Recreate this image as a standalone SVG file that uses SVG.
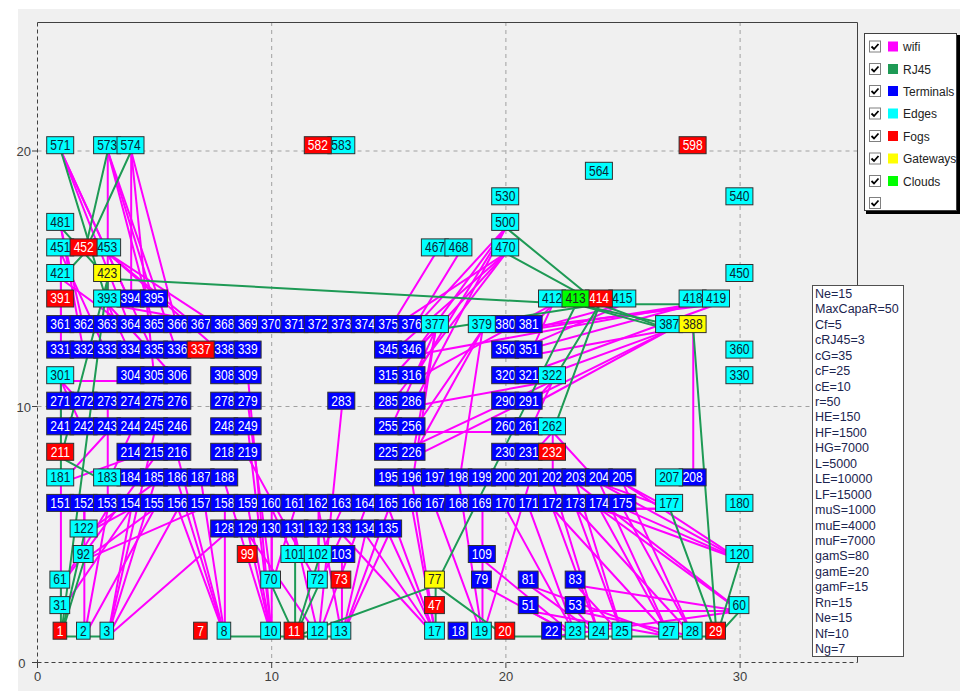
<svg xmlns="http://www.w3.org/2000/svg" width="960" height="691" viewBox="0 0 960 691">
<defs>
<style>
.grid{stroke:#A0A0A0;stroke-width:1;stroke-dasharray:4 4;fill:none}
.ax{stroke:#404040;stroke-width:1;stroke-dasharray:4 3;fill:none}
.fr{stroke:#404040;stroke-width:1;fill:none}
.lbl{font-family:"Liberation Sans",Arial,sans-serif;font-size:13px;fill:#404040}
.links line{vector-effect:non-scaling-stroke;stroke-linecap:round}
.w line{stroke:#FF00FF;stroke-width:2}
.r line{stroke:#1E9A55;stroke-width:2}
.n rect{stroke:#303030;stroke-width:1}
.n text{font-family:"Liberation Sans",Arial,sans-serif;font-size:14px;text-anchor:middle;transform:scaleX(0.86)}
.T rect{fill:#0000FF}.T text{fill:#FFFFFF}
.E rect{fill:#00FFFF}.E text{fill:#0A2535}
.F rect{fill:#FF0000}.F text{fill:#FFFFFF}
.G rect{fill:#FFFF00}.G text{fill:#222222}
.C rect{fill:#00FF00}.C text{fill:#222222}
.lg text{font-family:"Liberation Sans",Arial,sans-serif;font-size:12px;fill:#222}
.cb{fill:#fff;stroke:#808080;stroke-width:1}
.ck{fill:none;stroke:#000;stroke-width:1.8}
.pm text{font-family:"Liberation Sans",Arial,sans-serif;font-size:12.5px;fill:#1C2550}
</style>
</defs>
<rect x="0" y="0" width="960" height="691" fill="#FFFFFF"/>
<rect x="18" y="9" width="942" height="682" fill="#F0F0F0"/>
<g id="axes">
<line class="grid" x1="271.7" y1="22" x2="271.7" y2="662"/>
<line class="grid" x1="505.9" y1="22" x2="505.9" y2="662"/>
<line class="grid" x1="740.1" y1="22" x2="740.1" y2="662"/>
<line class="grid" x1="37.5" y1="151" x2="857" y2="151"/>
<line class="grid" x1="37.5" y1="406.5" x2="857" y2="406.5"/>
<line class="fr" x1="37.5" y1="22.5" x2="857.5" y2="22.5"/>
<line class="fr" x1="857.5" y1="22.5" x2="857.5" y2="662.5"/>
<line class="ax" x1="37.5" y1="22.5" x2="37.5" y2="662.5"/>
<line class="ax" x1="37.5" y1="662.5" x2="857.5" y2="662.5"/>
<line class="fr" x1="32" y1="151" x2="37.5" y2="151"/>
<line class="fr" x1="32" y1="406.5" x2="37.5" y2="406.5"/>
<line class="fr" x1="32" y1="662.5" x2="37.5" y2="662.5"/>
<line class="fr" x1="37.5" y1="662.5" x2="37.5" y2="668"/>
<line class="fr" x1="271.7" y1="662.5" x2="271.7" y2="668"/>
<line class="fr" x1="505.9" y1="662.5" x2="505.9" y2="668"/>
<line class="fr" x1="740.1" y1="662.5" x2="740.1" y2="668"/>
<text class="lbl" x="31" y="156" text-anchor="end">20</text>
<text class="lbl" x="31" y="411.5" text-anchor="end">10</text>
<text class="lbl" x="25.5" y="667.5" text-anchor="end">0</text>
<text class="lbl" x="37.5" y="681" text-anchor="middle">0</text>
<text class="lbl" x="271.7" y="681" text-anchor="middle">10</text>
<text class="lbl" x="505.9" y="681" text-anchor="middle">20</text>
<text class="lbl" x="740.1" y="681" text-anchor="middle">30</text>
</g>
<g id="connectors" class="links" transform="matrix(23.42 0 0 -25.55 37.5 662)">
<g class="w">
<line x1="1" y1="20" x2="4" y2="13"/><line x1="1" y1="20" x2="4" y2="14"/><line x1="1" y1="20" x2="5" y2="12"/>
<line x1="3" y1="20" x2="5" y2="13"/><line x1="3" y1="20" x2="5" y2="14"/><line x1="3" y1="20" x2="6" y2="12"/><line x1="3" y1="20" x2="3" y2="13"/>
<line x1="4" y1="20" x2="4" y2="14"/><line x1="4" y1="20" x2="6" y2="13"/><line x1="4" y1="20" x2="5" y2="11"/>
<line x1="1" y1="17" x2="2" y2="13"/><line x1="1" y1="17" x2="2" y2="12"/>
<line x1="1" y1="16" x2="1" y2="13"/><line x1="1" y1="16" x2="3" y2="12"/>
<line x1="3" y1="16" x2="8" y2="13"/><line x1="3" y1="16" x2="8" y2="12"/><line x1="3" y1="16" x2="7" y2="13"/>
<line x1="1" y1="15" x2="1" y2="12"/><line x1="1" y1="15" x2="4" y2="13"/>
<line x1="3" y1="14" x2="4" y2="12"/><line x1="3" y1="14" x2="9" y2="13"/><line x1="3" y1="14" x2="6" y2="11"/><line x1="3" y1="14" x2="5" y2="14"/>
<line x1="1" y1="11" x2="1" y2="10"/><line x1="1" y1="11" x2="1" y2="9"/><line x1="1" y1="11" x2="4" y2="11"/><line x1="1" y1="11" x2="2" y2="10"/><line x1="1" y1="11" x2="2" y2="9"/>
<line x1="1" y1="7" x2="4" y2="8"/><line x1="1" y1="7" x2="1" y2="6"/><line x1="1" y1="7" x2="3" y2="9"/>
<line x1="3" y1="7" x2="4" y2="7"/><line x1="3" y1="7" x2="4" y2="9"/><line x1="3" y1="7" x2="3" y2="10"/><line x1="3" y1="7" x2="3" y2="6"/>
<line x1="2" y1="5" x2="2" y2="6"/><line x1="2" y1="5" x2="5" y2="7"/><line x1="2" y1="5" x2="4" y2="6"/>
<line x1="2" y1="4" x2="5" y2="6"/><line x1="2" y1="4" x2="7" y2="6"/>
<line x1="1" y1="3" x2="3" y2="6"/><line x1="1" y1="3" x2="5" y2="8"/>
<line x1="1" y1="2" x2="1" y2="6"/><line x1="1" y1="2" x2="4" y2="6"/>
<line x1="2" y1="1" x2="2" y2="6"/><line x1="2" y1="1" x2="3" y2="6"/><line x1="2" y1="1" x2="5" y2="6"/>
<line x1="3" y1="1" x2="4" y2="6"/><line x1="3" y1="1" x2="6" y2="6"/><line x1="3" y1="1" x2="8" y2="5"/><line x1="3" y1="1" x2="5" y2="7"/><line x1="3" y1="1" x2="5" y2="9"/>
<line x1="8" y1="1" x2="6" y2="6"/><line x1="8" y1="1" x2="6" y2="7"/><line x1="8" y1="1" x2="8" y2="6"/><line x1="8" y1="1" x2="7" y2="7"/><line x1="8" y1="1" x2="6" y2="8"/>
<line x1="10" y1="1" x2="9" y2="6"/><line x1="10" y1="1" x2="9" y2="5"/><line x1="10" y1="1" x2="8" y2="7"/><line x1="10" y1="1" x2="9" y2="11"/><line x1="10" y1="1" x2="9" y2="9"/><line x1="10" y1="1" x2="10" y2="6"/>
<line x1="10" y1="3" x2="10" y2="5"/><line x1="10" y1="3" x2="11" y2="6"/><line x1="10" y1="3" x2="9" y2="10"/>
<line x1="12" y1="3" x2="12" y2="6"/><line x1="12" y1="3" x2="13" y2="5"/><line x1="12" y1="3" x2="9" y2="8"/>
<line x1="11" y1="4" x2="11" y2="5"/><line x1="11" y1="4" x2="10" y2="6"/>
<line x1="12" y1="4" x2="12" y2="5"/><line x1="12" y1="4" x2="13" y2="6"/>
<line x1="12" y1="1" x2="13" y2="10"/><line x1="12" y1="1" x2="11" y2="5"/><line x1="12" y1="1" x2="14" y2="6"/><line x1="12" y1="1" x2="9" y2="5"/>
<line x1="13" y1="1" x2="14" y2="5"/><line x1="13" y1="1" x2="13" y2="4"/><line x1="13" y1="1" x2="15" y2="6"/><line x1="13" y1="1" x2="12" y2="6"/><line x1="13" y1="1" x2="15" y2="5"/>
<line x1="17" y1="1" x2="15" y2="5"/><line x1="17" y1="1" x2="16" y2="6"/><line x1="17" y1="1" x2="15" y2="6"/><line x1="17" y1="1" x2="14" y2="5"/><line x1="17" y1="1" x2="16" y2="7"/><line x1="17" y1="1" x2="13" y2="5"/>
<line x1="19" y1="1" x2="17" y2="6"/><line x1="19" y1="1" x2="21" y2="7"/><line x1="19" y1="1" x2="18" y2="7"/><line x1="19" y1="1" x2="19" y2="6"/>
<line x1="23" y1="1" x2="21" y2="2"/><line x1="23" y1="1" x2="19" y2="4"/><line x1="23" y1="1" x2="19" y2="3"/><line x1="23" y1="1" x2="21" y2="6"/><line x1="23" y1="1" x2="20" y2="6"/>
<line x1="24" y1="1" x2="23" y2="2"/><line x1="24" y1="1" x2="22" y2="6"/><line x1="24" y1="1" x2="21" y2="3"/><line x1="24" y1="1" x2="22" y2="7"/>
<line x1="25" y1="1" x2="23" y2="6"/><line x1="25" y1="1" x2="23" y2="3"/><line x1="25" y1="1" x2="23" y2="7"/>
<line x1="27" y1="1" x2="24" y2="6"/><line x1="27" y1="1" x2="21" y2="2"/><line x1="27" y1="1" x2="22" y2="6"/><line x1="27" y1="1" x2="24" y2="7"/><line x1="27" y1="1" x2="21" y2="3"/>
<line x1="28" y1="1" x2="25" y2="6"/><line x1="28" y1="1" x2="23" y2="2"/><line x1="28" y1="1" x2="23" y2="6"/><line x1="28" y1="1" x2="25" y2="7"/>
<line x1="30" y1="2" x2="23" y2="2"/><line x1="30" y1="2" x2="23" y2="3"/><line x1="30" y1="2" x2="24" y2="6"/><line x1="30" y1="2" x2="23" y2="7"/><line x1="30" y1="2" x2="22" y2="1"/>
<line x1="30" y1="4" x2="25" y2="6"/><line x1="30" y1="4" x2="25" y2="7"/><line x1="30" y1="4" x2="24" y2="6"/><line x1="30" y1="4" x2="24" y2="7"/>
<line x1="27" y1="6" x2="25" y2="6"/><line x1="27" y1="6" x2="25" y2="7"/><line x1="27" y1="6" x2="24" y2="7"/><line x1="27" y1="6" x2="24" y2="6"/>
<line x1="20" y1="16" x2="15" y2="13"/><line x1="20" y1="16" x2="15" y2="12"/><line x1="20" y1="16" x2="15" y2="11"/><line x1="20" y1="16" x2="15" y2="10"/>
<line x1="20" y1="17" x2="16" y2="12"/><line x1="20" y1="17" x2="16" y2="11"/><line x1="20" y1="17" x2="16" y2="10"/><line x1="20" y1="17" x2="16" y2="13"/>
<line x1="18" y1="16" x2="16" y2="13"/><line x1="17" y1="16" x2="15" y2="13"/>
<line x1="17" y1="13" x2="16" y2="12"/><line x1="17" y1="13" x2="16" y2="8"/><line x1="17" y1="13" x2="16" y2="7"/><line x1="17" y1="13" x2="15" y2="9"/>
<line x1="19" y1="13" x2="18" y2="7"/><line x1="19" y1="13" x2="16" y2="8"/><line x1="19" y1="13" x2="16" y2="9"/><line x1="19" y1="13" x2="20" y2="13"/>
<line x1="22" y1="11" x2="21" y2="10"/><line x1="22" y1="11" x2="21" y2="9"/><line x1="22" y1="11" x2="15" y2="8"/><line x1="22" y1="11" x2="16" y2="10"/>
<line x1="22" y1="9" x2="21" y2="8"/><line x1="22" y1="9" x2="22" y2="7"/><line x1="22" y1="9" x2="16" y2="9"/><line x1="22" y1="9" x2="24" y2="7"/>
<line x1="22" y1="14" x2="21" y2="13"/><line x1="22" y1="14" x2="21" y2="12"/><line x1="22" y1="14" x2="16" y2="11"/>
<line x1="25" y1="14" x2="20" y2="12"/><line x1="25" y1="14" x2="21" y2="13"/>
<line x1="27" y1="13" x2="21" y2="12"/><line x1="27" y1="13" x2="21" y2="11"/><line x1="27" y1="13" x2="21" y2="10"/><line x1="27" y1="13" x2="16" y2="8"/>
<line x1="28" y1="14" x2="21" y2="13"/><line x1="28" y1="14" x2="20" y2="12"/><line x1="28" y1="14" x2="16" y2="12"/>
<line x1="29" y1="14" x2="20" y2="11"/><line x1="29" y1="14" x2="20" y2="13"/>
<line x1="28" y1="13" x2="28" y2="7"/>
</g>
<g class="r">
<line x1="1" y1="20" x2="3" y2="14"/><line x1="3" y1="20" x2="2" y2="16"/><line x1="4" y1="20" x2="2" y2="16"/><line x1="1" y1="17" x2="2" y2="16"/>
<line x1="2" y1="16" x2="1" y2="15"/><line x1="2" y1="16" x2="3" y2="15"/><line x1="1" y1="16" x2="3" y2="16"/>
<line x1="3" y1="15" x2="23" y2="14"/><line x1="3" y1="15" x2="1" y2="8"/><line x1="3" y1="15" x2="1" y2="1"/><line x1="3" y1="15" x2="3" y2="14"/>
<line x1="1" y1="8" x2="1" y2="7"/><line x1="1" y1="8" x2="3" y2="7"/><line x1="1" y1="8" x2="1" y2="11"/>
<line x1="1" y1="1" x2="1" y2="3"/><line x1="1" y1="1" x2="2" y2="4"/><line x1="1" y1="1" x2="2" y2="5"/><line x1="1" y1="1" x2="3" y2="1"/>
<line x1="8" y1="1" x2="13" y2="1"/><line x1="11" y1="1" x2="10" y2="3"/><line x1="11" y1="1" x2="11" y2="4"/><line x1="11" y1="1" x2="12" y2="4"/><line x1="11" y1="1" x2="12" y2="3"/>
<line x1="17" y1="3" x2="17" y2="1"/><line x1="17" y1="3" x2="11" y2="1"/><line x1="17" y1="3" x2="20" y2="1"/><line x1="17" y1="3" x2="23" y2="14"/>
<line x1="20" y1="1" x2="29" y2="1"/>
<line x1="29" y1="1" x2="28" y2="13"/><line x1="29" y1="1" x2="27" y2="6"/><line x1="29" y1="1" x2="30" y2="4"/><line x1="29" y1="1" x2="30" y2="2"/>
<line x1="23" y1="14" x2="28" y2="13"/><line x1="23" y1="14" x2="27" y2="13"/><line x1="24" y1="14" x2="27" y2="13"/>
<line x1="24" y1="14" x2="29" y2="14"/><line x1="24" y1="14" x2="20" y2="16"/><line x1="24" y1="14" x2="20" y2="17"/>
<line x1="24" y1="14" x2="22" y2="11"/><line x1="24" y1="14" x2="22" y2="9"/><line x1="24" y1="14" x2="17" y2="13"/>
</g>
</g>
<g id="nodes">
<g id="n361" class="n T" transform="translate(60.9 329.9)"><rect x="-14.2" y="-14.3" width="27" height="17"/><text x="-0.7" y="-1">361</text></g>
<g id="n362" class="n T" transform="translate(84.3 329.9)"><rect x="-14.2" y="-14.3" width="27" height="17"/><text x="-0.7" y="-1">362</text></g>
<g id="n363" class="n T" transform="translate(107.8 329.9)"><rect x="-14.2" y="-14.3" width="27" height="17"/><text x="-0.7" y="-1">363</text></g>
<g id="n364" class="n T" transform="translate(131.2 329.9)"><rect x="-14.2" y="-14.3" width="27" height="17"/><text x="-0.7" y="-1">364</text></g>
<g id="n365" class="n T" transform="translate(154.6 329.9)"><rect x="-14.2" y="-14.3" width="27" height="17"/><text x="-0.7" y="-1">365</text></g>
<g id="n366" class="n T" transform="translate(178.0 329.9)"><rect x="-14.2" y="-14.3" width="27" height="17"/><text x="-0.7" y="-1">366</text></g>
<g id="n367" class="n T" transform="translate(201.4 329.9)"><rect x="-14.2" y="-14.3" width="27" height="17"/><text x="-0.7" y="-1">367</text></g>
<g id="n368" class="n T" transform="translate(224.9 329.9)"><rect x="-14.2" y="-14.3" width="27" height="17"/><text x="-0.7" y="-1">368</text></g>
<g id="n369" class="n T" transform="translate(248.3 329.9)"><rect x="-14.2" y="-14.3" width="27" height="17"/><text x="-0.7" y="-1">369</text></g>
<g id="n370" class="n T" transform="translate(271.7 329.9)"><rect x="-14.2" y="-14.3" width="27" height="17"/><text x="-0.7" y="-1">370</text></g>
<g id="n371" class="n T" transform="translate(295.1 329.9)"><rect x="-14.2" y="-14.3" width="27" height="17"/><text x="-0.7" y="-1">371</text></g>
<g id="n372" class="n T" transform="translate(318.5 329.9)"><rect x="-14.2" y="-14.3" width="27" height="17"/><text x="-0.7" y="-1">372</text></g>
<g id="n373" class="n T" transform="translate(342.0 329.9)"><rect x="-14.2" y="-14.3" width="27" height="17"/><text x="-0.7" y="-1">373</text></g>
<g id="n374" class="n T" transform="translate(365.4 329.9)"><rect x="-14.2" y="-14.3" width="27" height="17"/><text x="-0.7" y="-1">374</text></g>
<g id="n375" class="n T" transform="translate(388.8 329.9)"><rect x="-14.2" y="-14.3" width="27" height="17"/><text x="-0.7" y="-1">375</text></g>
<g id="n376" class="n T" transform="translate(412.2 329.9)"><rect x="-14.2" y="-14.3" width="27" height="17"/><text x="-0.7" y="-1">376</text></g>
<g id="n380" class="n T" transform="translate(505.9 329.9)"><rect x="-14.2" y="-14.3" width="27" height="17"/><text x="-0.7" y="-1">380</text></g>
<g id="n381" class="n T" transform="translate(529.3 329.9)"><rect x="-14.2" y="-14.3" width="27" height="17"/><text x="-0.7" y="-1">381</text></g>
<g id="n394" class="n T" transform="translate(131.2 304.3)"><rect x="-14.2" y="-14.3" width="27" height="17"/><text x="-0.7" y="-1">394</text></g>
<g id="n395" class="n T" transform="translate(154.6 304.3)"><rect x="-14.2" y="-14.3" width="27" height="17"/><text x="-0.7" y="-1">395</text></g>
<g id="n331" class="n T" transform="translate(60.9 355.4)"><rect x="-14.2" y="-14.3" width="27" height="17"/><text x="-0.7" y="-1">331</text></g>
<g id="n332" class="n T" transform="translate(84.3 355.4)"><rect x="-14.2" y="-14.3" width="27" height="17"/><text x="-0.7" y="-1">332</text></g>
<g id="n333" class="n T" transform="translate(107.8 355.4)"><rect x="-14.2" y="-14.3" width="27" height="17"/><text x="-0.7" y="-1">333</text></g>
<g id="n334" class="n T" transform="translate(131.2 355.4)"><rect x="-14.2" y="-14.3" width="27" height="17"/><text x="-0.7" y="-1">334</text></g>
<g id="n335" class="n T" transform="translate(154.6 355.4)"><rect x="-14.2" y="-14.3" width="27" height="17"/><text x="-0.7" y="-1">335</text></g>
<g id="n336" class="n T" transform="translate(178.0 355.4)"><rect x="-14.2" y="-14.3" width="27" height="17"/><text x="-0.7" y="-1">336</text></g>
<g id="n338" class="n T" transform="translate(224.9 355.4)"><rect x="-14.2" y="-14.3" width="27" height="17"/><text x="-0.7" y="-1">338</text></g>
<g id="n339" class="n T" transform="translate(248.3 355.4)"><rect x="-14.2" y="-14.3" width="27" height="17"/><text x="-0.7" y="-1">339</text></g>
<g id="n345" class="n T" transform="translate(388.8 355.4)"><rect x="-14.2" y="-14.3" width="27" height="17"/><text x="-0.7" y="-1">345</text></g>
<g id="n346" class="n T" transform="translate(412.2 355.4)"><rect x="-14.2" y="-14.3" width="27" height="17"/><text x="-0.7" y="-1">346</text></g>
<g id="n350" class="n T" transform="translate(505.9 355.4)"><rect x="-14.2" y="-14.3" width="27" height="17"/><text x="-0.7" y="-1">350</text></g>
<g id="n351" class="n T" transform="translate(529.3 355.4)"><rect x="-14.2" y="-14.3" width="27" height="17"/><text x="-0.7" y="-1">351</text></g>
<g id="n304" class="n T" transform="translate(131.2 381)"><rect x="-14.2" y="-14.3" width="27" height="17"/><text x="-0.7" y="-1">304</text></g>
<g id="n305" class="n T" transform="translate(154.6 381)"><rect x="-14.2" y="-14.3" width="27" height="17"/><text x="-0.7" y="-1">305</text></g>
<g id="n306" class="n T" transform="translate(178.0 381)"><rect x="-14.2" y="-14.3" width="27" height="17"/><text x="-0.7" y="-1">306</text></g>
<g id="n308" class="n T" transform="translate(224.9 381)"><rect x="-14.2" y="-14.3" width="27" height="17"/><text x="-0.7" y="-1">308</text></g>
<g id="n309" class="n T" transform="translate(248.3 381)"><rect x="-14.2" y="-14.3" width="27" height="17"/><text x="-0.7" y="-1">309</text></g>
<g id="n315" class="n T" transform="translate(388.8 381)"><rect x="-14.2" y="-14.3" width="27" height="17"/><text x="-0.7" y="-1">315</text></g>
<g id="n316" class="n T" transform="translate(412.2 381)"><rect x="-14.2" y="-14.3" width="27" height="17"/><text x="-0.7" y="-1">316</text></g>
<g id="n320" class="n T" transform="translate(505.9 381)"><rect x="-14.2" y="-14.3" width="27" height="17"/><text x="-0.7" y="-1">320</text></g>
<g id="n321" class="n T" transform="translate(529.3 381)"><rect x="-14.2" y="-14.3" width="27" height="17"/><text x="-0.7" y="-1">321</text></g>
<g id="n271" class="n T" transform="translate(60.9 406.5)"><rect x="-14.2" y="-14.3" width="27" height="17"/><text x="-0.7" y="-1">271</text></g>
<g id="n272" class="n T" transform="translate(84.3 406.5)"><rect x="-14.2" y="-14.3" width="27" height="17"/><text x="-0.7" y="-1">272</text></g>
<g id="n273" class="n T" transform="translate(107.8 406.5)"><rect x="-14.2" y="-14.3" width="27" height="17"/><text x="-0.7" y="-1">273</text></g>
<g id="n274" class="n T" transform="translate(131.2 406.5)"><rect x="-14.2" y="-14.3" width="27" height="17"/><text x="-0.7" y="-1">274</text></g>
<g id="n275" class="n T" transform="translate(154.6 406.5)"><rect x="-14.2" y="-14.3" width="27" height="17"/><text x="-0.7" y="-1">275</text></g>
<g id="n276" class="n T" transform="translate(178.0 406.5)"><rect x="-14.2" y="-14.3" width="27" height="17"/><text x="-0.7" y="-1">276</text></g>
<g id="n278" class="n T" transform="translate(224.9 406.5)"><rect x="-14.2" y="-14.3" width="27" height="17"/><text x="-0.7" y="-1">278</text></g>
<g id="n279" class="n T" transform="translate(248.3 406.5)"><rect x="-14.2" y="-14.3" width="27" height="17"/><text x="-0.7" y="-1">279</text></g>
<g id="n283" class="n T" transform="translate(342.0 406.5)"><rect x="-14.2" y="-14.3" width="27" height="17"/><text x="-0.7" y="-1">283</text></g>
<g id="n285" class="n T" transform="translate(388.8 406.5)"><rect x="-14.2" y="-14.3" width="27" height="17"/><text x="-0.7" y="-1">285</text></g>
<g id="n286" class="n T" transform="translate(412.2 406.5)"><rect x="-14.2" y="-14.3" width="27" height="17"/><text x="-0.7" y="-1">286</text></g>
<g id="n290" class="n T" transform="translate(505.9 406.5)"><rect x="-14.2" y="-14.3" width="27" height="17"/><text x="-0.7" y="-1">290</text></g>
<g id="n291" class="n T" transform="translate(529.3 406.5)"><rect x="-14.2" y="-14.3" width="27" height="17"/><text x="-0.7" y="-1">291</text></g>
<g id="n241" class="n T" transform="translate(60.9 432.1)"><rect x="-14.2" y="-14.3" width="27" height="17"/><text x="-0.7" y="-1">241</text></g>
<g id="n242" class="n T" transform="translate(84.3 432.1)"><rect x="-14.2" y="-14.3" width="27" height="17"/><text x="-0.7" y="-1">242</text></g>
<g id="n243" class="n T" transform="translate(107.8 432.1)"><rect x="-14.2" y="-14.3" width="27" height="17"/><text x="-0.7" y="-1">243</text></g>
<g id="n244" class="n T" transform="translate(131.2 432.1)"><rect x="-14.2" y="-14.3" width="27" height="17"/><text x="-0.7" y="-1">244</text></g>
<g id="n245" class="n T" transform="translate(154.6 432.1)"><rect x="-14.2" y="-14.3" width="27" height="17"/><text x="-0.7" y="-1">245</text></g>
<g id="n246" class="n T" transform="translate(178.0 432.1)"><rect x="-14.2" y="-14.3" width="27" height="17"/><text x="-0.7" y="-1">246</text></g>
<g id="n248" class="n T" transform="translate(224.9 432.1)"><rect x="-14.2" y="-14.3" width="27" height="17"/><text x="-0.7" y="-1">248</text></g>
<g id="n249" class="n T" transform="translate(248.3 432.1)"><rect x="-14.2" y="-14.3" width="27" height="17"/><text x="-0.7" y="-1">249</text></g>
<g id="n255" class="n T" transform="translate(388.8 432.1)"><rect x="-14.2" y="-14.3" width="27" height="17"/><text x="-0.7" y="-1">255</text></g>
<g id="n256" class="n T" transform="translate(412.2 432.1)"><rect x="-14.2" y="-14.3" width="27" height="17"/><text x="-0.7" y="-1">256</text></g>
<g id="n260" class="n T" transform="translate(505.9 432.1)"><rect x="-14.2" y="-14.3" width="27" height="17"/><text x="-0.7" y="-1">260</text></g>
<g id="n261" class="n T" transform="translate(529.3 432.1)"><rect x="-14.2" y="-14.3" width="27" height="17"/><text x="-0.7" y="-1">261</text></g>
<g id="n214" class="n T" transform="translate(131.2 457.6)"><rect x="-14.2" y="-14.3" width="27" height="17"/><text x="-0.7" y="-1">214</text></g>
<g id="n215" class="n T" transform="translate(154.6 457.6)"><rect x="-14.2" y="-14.3" width="27" height="17"/><text x="-0.7" y="-1">215</text></g>
<g id="n216" class="n T" transform="translate(178.0 457.6)"><rect x="-14.2" y="-14.3" width="27" height="17"/><text x="-0.7" y="-1">216</text></g>
<g id="n218" class="n T" transform="translate(224.9 457.6)"><rect x="-14.2" y="-14.3" width="27" height="17"/><text x="-0.7" y="-1">218</text></g>
<g id="n219" class="n T" transform="translate(248.3 457.6)"><rect x="-14.2" y="-14.3" width="27" height="17"/><text x="-0.7" y="-1">219</text></g>
<g id="n225" class="n T" transform="translate(388.8 457.6)"><rect x="-14.2" y="-14.3" width="27" height="17"/><text x="-0.7" y="-1">225</text></g>
<g id="n226" class="n T" transform="translate(412.2 457.6)"><rect x="-14.2" y="-14.3" width="27" height="17"/><text x="-0.7" y="-1">226</text></g>
<g id="n230" class="n T" transform="translate(505.9 457.6)"><rect x="-14.2" y="-14.3" width="27" height="17"/><text x="-0.7" y="-1">230</text></g>
<g id="n231" class="n T" transform="translate(529.3 457.6)"><rect x="-14.2" y="-14.3" width="27" height="17"/><text x="-0.7" y="-1">231</text></g>
<g id="n184" class="n T" transform="translate(131.2 483.2)"><rect x="-14.2" y="-14.3" width="27" height="17"/><text x="-0.7" y="-1">184</text></g>
<g id="n185" class="n T" transform="translate(154.6 483.2)"><rect x="-14.2" y="-14.3" width="27" height="17"/><text x="-0.7" y="-1">185</text></g>
<g id="n186" class="n T" transform="translate(178.0 483.2)"><rect x="-14.2" y="-14.3" width="27" height="17"/><text x="-0.7" y="-1">186</text></g>
<g id="n187" class="n T" transform="translate(201.4 483.2)"><rect x="-14.2" y="-14.3" width="27" height="17"/><text x="-0.7" y="-1">187</text></g>
<g id="n188" class="n T" transform="translate(224.9 483.2)"><rect x="-14.2" y="-14.3" width="27" height="17"/><text x="-0.7" y="-1">188</text></g>
<g id="n195" class="n T" transform="translate(388.8 483.2)"><rect x="-14.2" y="-14.3" width="27" height="17"/><text x="-0.7" y="-1">195</text></g>
<g id="n196" class="n T" transform="translate(412.2 483.2)"><rect x="-14.2" y="-14.3" width="27" height="17"/><text x="-0.7" y="-1">196</text></g>
<g id="n197" class="n T" transform="translate(435.6 483.2)"><rect x="-14.2" y="-14.3" width="27" height="17"/><text x="-0.7" y="-1">197</text></g>
<g id="n198" class="n T" transform="translate(459.1 483.2)"><rect x="-14.2" y="-14.3" width="27" height="17"/><text x="-0.7" y="-1">198</text></g>
<g id="n199" class="n T" transform="translate(482.5 483.2)"><rect x="-14.2" y="-14.3" width="27" height="17"/><text x="-0.7" y="-1">199</text></g>
<g id="n200" class="n T" transform="translate(505.9 483.2)"><rect x="-14.2" y="-14.3" width="27" height="17"/><text x="-0.7" y="-1">200</text></g>
<g id="n201" class="n T" transform="translate(529.3 483.2)"><rect x="-14.2" y="-14.3" width="27" height="17"/><text x="-0.7" y="-1">201</text></g>
<g id="n202" class="n T" transform="translate(552.7 483.2)"><rect x="-14.2" y="-14.3" width="27" height="17"/><text x="-0.7" y="-1">202</text></g>
<g id="n203" class="n T" transform="translate(576.2 483.2)"><rect x="-14.2" y="-14.3" width="27" height="17"/><text x="-0.7" y="-1">203</text></g>
<g id="n204" class="n T" transform="translate(599.6 483.2)"><rect x="-14.2" y="-14.3" width="27" height="17"/><text x="-0.7" y="-1">204</text></g>
<g id="n205" class="n T" transform="translate(623.0 483.2)"><rect x="-14.2" y="-14.3" width="27" height="17"/><text x="-0.7" y="-1">205</text></g>
<g id="n208" class="n T" transform="translate(693.3 483.2)"><rect x="-14.2" y="-14.3" width="27" height="17"/><text x="-0.7" y="-1">208</text></g>
<g id="n151" class="n T" transform="translate(60.9 508.7)"><rect x="-14.2" y="-14.3" width="27" height="17"/><text x="-0.7" y="-1">151</text></g>
<g id="n152" class="n T" transform="translate(84.3 508.7)"><rect x="-14.2" y="-14.3" width="27" height="17"/><text x="-0.7" y="-1">152</text></g>
<g id="n153" class="n T" transform="translate(107.8 508.7)"><rect x="-14.2" y="-14.3" width="27" height="17"/><text x="-0.7" y="-1">153</text></g>
<g id="n154" class="n T" transform="translate(131.2 508.7)"><rect x="-14.2" y="-14.3" width="27" height="17"/><text x="-0.7" y="-1">154</text></g>
<g id="n155" class="n T" transform="translate(154.6 508.7)"><rect x="-14.2" y="-14.3" width="27" height="17"/><text x="-0.7" y="-1">155</text></g>
<g id="n156" class="n T" transform="translate(178.0 508.7)"><rect x="-14.2" y="-14.3" width="27" height="17"/><text x="-0.7" y="-1">156</text></g>
<g id="n157" class="n T" transform="translate(201.4 508.7)"><rect x="-14.2" y="-14.3" width="27" height="17"/><text x="-0.7" y="-1">157</text></g>
<g id="n158" class="n T" transform="translate(224.9 508.7)"><rect x="-14.2" y="-14.3" width="27" height="17"/><text x="-0.7" y="-1">158</text></g>
<g id="n159" class="n T" transform="translate(248.3 508.7)"><rect x="-14.2" y="-14.3" width="27" height="17"/><text x="-0.7" y="-1">159</text></g>
<g id="n160" class="n T" transform="translate(271.7 508.7)"><rect x="-14.2" y="-14.3" width="27" height="17"/><text x="-0.7" y="-1">160</text></g>
<g id="n161" class="n T" transform="translate(295.1 508.7)"><rect x="-14.2" y="-14.3" width="27" height="17"/><text x="-0.7" y="-1">161</text></g>
<g id="n162" class="n T" transform="translate(318.5 508.7)"><rect x="-14.2" y="-14.3" width="27" height="17"/><text x="-0.7" y="-1">162</text></g>
<g id="n163" class="n T" transform="translate(342.0 508.7)"><rect x="-14.2" y="-14.3" width="27" height="17"/><text x="-0.7" y="-1">163</text></g>
<g id="n164" class="n T" transform="translate(365.4 508.7)"><rect x="-14.2" y="-14.3" width="27" height="17"/><text x="-0.7" y="-1">164</text></g>
<g id="n165" class="n T" transform="translate(388.8 508.7)"><rect x="-14.2" y="-14.3" width="27" height="17"/><text x="-0.7" y="-1">165</text></g>
<g id="n166" class="n T" transform="translate(412.2 508.7)"><rect x="-14.2" y="-14.3" width="27" height="17"/><text x="-0.7" y="-1">166</text></g>
<g id="n167" class="n T" transform="translate(435.6 508.7)"><rect x="-14.2" y="-14.3" width="27" height="17"/><text x="-0.7" y="-1">167</text></g>
<g id="n168" class="n T" transform="translate(459.1 508.7)"><rect x="-14.2" y="-14.3" width="27" height="17"/><text x="-0.7" y="-1">168</text></g>
<g id="n169" class="n T" transform="translate(482.5 508.7)"><rect x="-14.2" y="-14.3" width="27" height="17"/><text x="-0.7" y="-1">169</text></g>
<g id="n170" class="n T" transform="translate(505.9 508.7)"><rect x="-14.2" y="-14.3" width="27" height="17"/><text x="-0.7" y="-1">170</text></g>
<g id="n171" class="n T" transform="translate(529.3 508.7)"><rect x="-14.2" y="-14.3" width="27" height="17"/><text x="-0.7" y="-1">171</text></g>
<g id="n172" class="n T" transform="translate(552.7 508.7)"><rect x="-14.2" y="-14.3" width="27" height="17"/><text x="-0.7" y="-1">172</text></g>
<g id="n173" class="n T" transform="translate(576.2 508.7)"><rect x="-14.2" y="-14.3" width="27" height="17"/><text x="-0.7" y="-1">173</text></g>
<g id="n174" class="n T" transform="translate(599.6 508.7)"><rect x="-14.2" y="-14.3" width="27" height="17"/><text x="-0.7" y="-1">174</text></g>
<g id="n175" class="n T" transform="translate(623.0 508.7)"><rect x="-14.2" y="-14.3" width="27" height="17"/><text x="-0.7" y="-1">175</text></g>
<g id="n128" class="n T" transform="translate(224.9 534.3)"><rect x="-14.2" y="-14.3" width="27" height="17"/><text x="-0.7" y="-1">128</text></g>
<g id="n129" class="n T" transform="translate(248.3 534.3)"><rect x="-14.2" y="-14.3" width="27" height="17"/><text x="-0.7" y="-1">129</text></g>
<g id="n130" class="n T" transform="translate(271.7 534.3)"><rect x="-14.2" y="-14.3" width="27" height="17"/><text x="-0.7" y="-1">130</text></g>
<g id="n131" class="n T" transform="translate(295.1 534.3)"><rect x="-14.2" y="-14.3" width="27" height="17"/><text x="-0.7" y="-1">131</text></g>
<g id="n132" class="n T" transform="translate(318.5 534.3)"><rect x="-14.2" y="-14.3" width="27" height="17"/><text x="-0.7" y="-1">132</text></g>
<g id="n133" class="n T" transform="translate(342.0 534.3)"><rect x="-14.2" y="-14.3" width="27" height="17"/><text x="-0.7" y="-1">133</text></g>
<g id="n134" class="n T" transform="translate(365.4 534.3)"><rect x="-14.2" y="-14.3" width="27" height="17"/><text x="-0.7" y="-1">134</text></g>
<g id="n135" class="n T" transform="translate(388.8 534.3)"><rect x="-14.2" y="-14.3" width="27" height="17"/><text x="-0.7" y="-1">135</text></g>
<g id="n103" class="n T" transform="translate(342.0 559.8)"><rect x="-14.2" y="-14.3" width="27" height="17"/><text x="-0.7" y="-1">103</text></g>
<g id="n109" class="n T" transform="translate(482.5 559.8)"><rect x="-14.2" y="-14.3" width="27" height="17"/><text x="-0.7" y="-1">109</text></g>
<g id="n79" class="n T" transform="translate(482.5 585.4)"><rect x="-11" y="-14.3" width="19.8" height="17"/><text x="-1.1" y="-1">79</text></g>
<g id="n81" class="n T" transform="translate(529.3 585.4)"><rect x="-11" y="-14.3" width="19.8" height="17"/><text x="-1.1" y="-1">81</text></g>
<g id="n83" class="n T" transform="translate(576.2 585.4)"><rect x="-11" y="-14.3" width="19.8" height="17"/><text x="-1.1" y="-1">83</text></g>
<g id="n51" class="n T" transform="translate(529.3 610.9)"><rect x="-11" y="-14.3" width="19.8" height="17"/><text x="-1.1" y="-1">51</text></g>
<g id="n53" class="n T" transform="translate(576.2 610.9)"><rect x="-11" y="-14.3" width="19.8" height="17"/><text x="-1.1" y="-1">53</text></g>
<g id="n18" class="n T" transform="translate(459.1 636.5)"><rect x="-11" y="-14.3" width="19.8" height="17"/><text x="-1.1" y="-1">18</text></g>
<g id="n22" class="n T" transform="translate(552.7 636.5)"><rect x="-11" y="-14.3" width="19.8" height="17"/><text x="-1.1" y="-1">22</text></g>

<g id="n571" class="n E" transform="translate(60.9 151)"><rect x="-14.2" y="-14.3" width="27" height="17"/><text x="-0.7" y="-1">571</text></g>
<g id="n573" class="n E" transform="translate(107.8 151)"><rect x="-14.2" y="-14.3" width="27" height="17"/><text x="-0.7" y="-1">573</text></g>
<g id="n574" class="n E" transform="translate(131.2 151)"><rect x="-14.2" y="-14.3" width="27" height="17"/><text x="-0.7" y="-1">574</text></g>
<g id="n583" class="n E" transform="translate(342.0 151)"><rect x="-14.2" y="-14.3" width="27" height="17"/><text x="-0.7" y="-1">583</text></g>
<g id="n564" class="n E" transform="translate(599.6 176.6)"><rect x="-14.2" y="-14.3" width="27" height="17"/><text x="-0.7" y="-1">564</text></g>
<g id="n530" class="n E" transform="translate(505.9 202.1)"><rect x="-14.2" y="-14.3" width="27" height="17"/><text x="-0.7" y="-1">530</text></g>
<g id="n540" class="n E" transform="translate(740.1 202.1)"><rect x="-14.2" y="-14.3" width="27" height="17"/><text x="-0.7" y="-1">540</text></g>
<g id="n481" class="n E" transform="translate(60.9 227.7)"><rect x="-14.2" y="-14.3" width="27" height="17"/><text x="-0.7" y="-1">481</text></g>
<g id="n500" class="n E" transform="translate(505.9 227.7)"><rect x="-14.2" y="-14.3" width="27" height="17"/><text x="-0.7" y="-1">500</text></g>
<g id="n451" class="n E" transform="translate(60.9 253.2)"><rect x="-14.2" y="-14.3" width="27" height="17"/><text x="-0.7" y="-1">451</text></g>
<g id="n453" class="n E" transform="translate(107.8 253.2)"><rect x="-14.2" y="-14.3" width="27" height="17"/><text x="-0.7" y="-1">453</text></g>
<g id="n467" class="n E" transform="translate(435.6 253.2)"><rect x="-14.2" y="-14.3" width="27" height="17"/><text x="-0.7" y="-1">467</text></g>
<g id="n468" class="n E" transform="translate(459.1 253.2)"><rect x="-14.2" y="-14.3" width="27" height="17"/><text x="-0.7" y="-1">468</text></g>
<g id="n470" class="n E" transform="translate(505.9 253.2)"><rect x="-14.2" y="-14.3" width="27" height="17"/><text x="-0.7" y="-1">470</text></g>
<g id="n421" class="n E" transform="translate(60.9 278.8)"><rect x="-14.2" y="-14.3" width="27" height="17"/><text x="-0.7" y="-1">421</text></g>
<g id="n450" class="n E" transform="translate(740.1 278.8)"><rect x="-14.2" y="-14.3" width="27" height="17"/><text x="-0.7" y="-1">450</text></g>
<g id="n393" class="n E" transform="translate(107.8 304.3)"><rect x="-14.2" y="-14.3" width="27" height="17"/><text x="-0.7" y="-1">393</text></g>
<g id="n412" class="n E" transform="translate(552.7 304.3)"><rect x="-14.2" y="-14.3" width="27" height="17"/><text x="-0.7" y="-1">412</text></g>
<g id="n415" class="n E" transform="translate(623.0 304.3)"><rect x="-14.2" y="-14.3" width="27" height="17"/><text x="-0.7" y="-1">415</text></g>
<g id="n418" class="n E" transform="translate(693.3 304.3)"><rect x="-14.2" y="-14.3" width="27" height="17"/><text x="-0.7" y="-1">418</text></g>
<g id="n419" class="n E" transform="translate(716.7 304.3)"><rect x="-14.2" y="-14.3" width="27" height="17"/><text x="-0.7" y="-1">419</text></g>
<g id="n377" class="n E" transform="translate(435.6 329.9)"><rect x="-14.2" y="-14.3" width="27" height="17"/><text x="-0.7" y="-1">377</text></g>
<g id="n379" class="n E" transform="translate(482.5 329.9)"><rect x="-14.2" y="-14.3" width="27" height="17"/><text x="-0.7" y="-1">379</text></g>
<g id="n387" class="n E" transform="translate(669.8 329.9)"><rect x="-14.2" y="-14.3" width="27" height="17"/><text x="-0.7" y="-1">387</text></g>
<g id="n360" class="n E" transform="translate(740.1 355.4)"><rect x="-14.2" y="-14.3" width="27" height="17"/><text x="-0.7" y="-1">360</text></g>
<g id="n301" class="n E" transform="translate(60.9 381)"><rect x="-14.2" y="-14.3" width="27" height="17"/><text x="-0.7" y="-1">301</text></g>
<g id="n322" class="n E" transform="translate(552.7 381)"><rect x="-14.2" y="-14.3" width="27" height="17"/><text x="-0.7" y="-1">322</text></g>
<g id="n330" class="n E" transform="translate(740.1 381)"><rect x="-14.2" y="-14.3" width="27" height="17"/><text x="-0.7" y="-1">330</text></g>
<g id="n262" class="n E" transform="translate(552.7 432.1)"><rect x="-14.2" y="-14.3" width="27" height="17"/><text x="-0.7" y="-1">262</text></g>
<g id="n181" class="n E" transform="translate(60.9 483.2)"><rect x="-14.2" y="-14.3" width="27" height="17"/><text x="-0.7" y="-1">181</text></g>
<g id="n183" class="n E" transform="translate(107.8 483.2)"><rect x="-14.2" y="-14.3" width="27" height="17"/><text x="-0.7" y="-1">183</text></g>
<g id="n207" class="n E" transform="translate(669.8 483.2)"><rect x="-14.2" y="-14.3" width="27" height="17"/><text x="-0.7" y="-1">207</text></g>
<g id="n177" class="n E" transform="translate(669.8 508.7)"><rect x="-14.2" y="-14.3" width="27" height="17"/><text x="-0.7" y="-1">177</text></g>
<g id="n180" class="n E" transform="translate(740.1 508.7)"><rect x="-14.2" y="-14.3" width="27" height="17"/><text x="-0.7" y="-1">180</text></g>
<g id="n122" class="n E" transform="translate(84.3 534.3)"><rect x="-14.2" y="-14.3" width="27" height="17"/><text x="-0.7" y="-1">122</text></g>
<g id="n92" class="n E" transform="translate(84.3 559.8)"><rect x="-11" y="-14.3" width="19.8" height="17"/><text x="-1.1" y="-1">92</text></g>
<g id="n101" class="n E" transform="translate(295.1 559.8)"><rect x="-14.2" y="-14.3" width="27" height="17"/><text x="-0.7" y="-1">101</text></g>
<g id="n102" class="n E" transform="translate(318.5 559.8)"><rect x="-14.2" y="-14.3" width="27" height="17"/><text x="-0.7" y="-1">102</text></g>
<g id="n120" class="n E" transform="translate(740.1 559.8)"><rect x="-14.2" y="-14.3" width="27" height="17"/><text x="-0.7" y="-1">120</text></g>
<g id="n61" class="n E" transform="translate(60.9 585.4)"><rect x="-11" y="-14.3" width="19.8" height="17"/><text x="-1.1" y="-1">61</text></g>
<g id="n70" class="n E" transform="translate(271.7 585.4)"><rect x="-11" y="-14.3" width="19.8" height="17"/><text x="-1.1" y="-1">70</text></g>
<g id="n72" class="n E" transform="translate(318.5 585.4)"><rect x="-11" y="-14.3" width="19.8" height="17"/><text x="-1.1" y="-1">72</text></g>
<g id="n31" class="n E" transform="translate(60.9 610.9)"><rect x="-11" y="-14.3" width="19.8" height="17"/><text x="-1.1" y="-1">31</text></g>
<g id="n60" class="n E" transform="translate(740.1 610.9)"><rect x="-11" y="-14.3" width="19.8" height="17"/><text x="-1.1" y="-1">60</text></g>
<g id="n2" class="n E" transform="translate(84.3 636.5)"><rect x="-7.8" y="-14.3" width="13.6" height="17"/><text x="-1" y="-1">2</text></g>
<g id="n3" class="n E" transform="translate(107.8 636.5)"><rect x="-7.8" y="-14.3" width="13.6" height="17"/><text x="-1" y="-1">3</text></g>
<g id="n8" class="n E" transform="translate(224.9 636.5)"><rect x="-7.8" y="-14.3" width="13.6" height="17"/><text x="-1" y="-1">8</text></g>
<g id="n10" class="n E" transform="translate(271.7 636.5)"><rect x="-11" y="-14.3" width="19.8" height="17"/><text x="-1.1" y="-1">10</text></g>
<g id="n12" class="n E" transform="translate(318.5 636.5)"><rect x="-11" y="-14.3" width="19.8" height="17"/><text x="-1.1" y="-1">12</text></g>
<g id="n13" class="n E" transform="translate(342.0 636.5)"><rect x="-11" y="-14.3" width="19.8" height="17"/><text x="-1.1" y="-1">13</text></g>
<g id="n17" class="n E" transform="translate(435.6 636.5)"><rect x="-11" y="-14.3" width="19.8" height="17"/><text x="-1.1" y="-1">17</text></g>
<g id="n19" class="n E" transform="translate(482.5 636.5)"><rect x="-11" y="-14.3" width="19.8" height="17"/><text x="-1.1" y="-1">19</text></g>
<g id="n23" class="n E" transform="translate(576.2 636.5)"><rect x="-11" y="-14.3" width="19.8" height="17"/><text x="-1.1" y="-1">23</text></g>
<g id="n24" class="n E" transform="translate(599.6 636.5)"><rect x="-11" y="-14.3" width="19.8" height="17"/><text x="-1.1" y="-1">24</text></g>
<g id="n25" class="n E" transform="translate(623.0 636.5)"><rect x="-11" y="-14.3" width="19.8" height="17"/><text x="-1.1" y="-1">25</text></g>
<g id="n27" class="n E" transform="translate(669.8 636.5)"><rect x="-11" y="-14.3" width="19.8" height="17"/><text x="-1.1" y="-1">27</text></g>
<g id="n28" class="n E" transform="translate(693.3 636.5)"><rect x="-11" y="-14.3" width="19.8" height="17"/><text x="-1.1" y="-1">28</text></g>

<g id="n582" class="n F" transform="translate(318.5 151)"><rect x="-14.2" y="-14.3" width="27" height="17"/><text x="-0.7" y="-1">582</text></g>
<g id="n598" class="n F" transform="translate(693.3 151)"><rect x="-14.2" y="-14.3" width="27" height="17"/><text x="-0.7" y="-1">598</text></g>
<g id="n452" class="n F" transform="translate(84.3 253.2)"><rect x="-14.2" y="-14.3" width="27" height="17"/><text x="-0.7" y="-1">452</text></g>
<g id="n391" class="n F" transform="translate(60.9 304.3)"><rect x="-14.2" y="-14.3" width="27" height="17"/><text x="-0.7" y="-1">391</text></g>
<g id="n414" class="n F" transform="translate(599.6 304.3)"><rect x="-14.2" y="-14.3" width="27" height="17"/><text x="-0.7" y="-1">414</text></g>
<g id="n337" class="n F" transform="translate(201.4 355.4)"><rect x="-14.2" y="-14.3" width="27" height="17"/><text x="-0.7" y="-1">337</text></g>
<g id="n211" class="n F" transform="translate(60.9 457.6)"><rect x="-14.2" y="-14.3" width="27" height="17"/><text x="-0.7" y="-1">211</text></g>
<g id="n232" class="n F" transform="translate(552.7 457.6)"><rect x="-14.2" y="-14.3" width="27" height="17"/><text x="-0.7" y="-1">232</text></g>
<g id="n99" class="n F" transform="translate(248.3 559.8)"><rect x="-11" y="-14.3" width="19.8" height="17"/><text x="-1.1" y="-1">99</text></g>
<g id="n73" class="n F" transform="translate(342.0 585.4)"><rect x="-11" y="-14.3" width="19.8" height="17"/><text x="-1.1" y="-1">73</text></g>
<g id="n47" class="n F" transform="translate(435.6 610.9)"><rect x="-11" y="-14.3" width="19.8" height="17"/><text x="-1.1" y="-1">47</text></g>
<g id="n1" class="n F" transform="translate(60.9 636.5)"><rect x="-7.8" y="-14.3" width="13.6" height="17"/><text x="-1" y="-1">1</text></g>
<g id="n7" class="n F" transform="translate(201.4 636.5)"><rect x="-7.8" y="-14.3" width="13.6" height="17"/><text x="-1" y="-1">7</text></g>
<g id="n11" class="n F" transform="translate(295.1 636.5)"><rect x="-11" y="-14.3" width="19.8" height="17"/><text x="-1.1" y="-1">11</text></g>
<g id="n20" class="n F" transform="translate(505.9 636.5)"><rect x="-11" y="-14.3" width="19.8" height="17"/><text x="-1.1" y="-1">20</text></g>
<g id="n29" class="n F" transform="translate(716.7 636.5)"><rect x="-11" y="-14.3" width="19.8" height="17"/><text x="-1.1" y="-1">29</text></g>

<g id="n423" class="n G" transform="translate(107.8 278.8)"><rect x="-14.2" y="-14.3" width="27" height="17"/><text x="-0.7" y="-1">423</text></g>
<g id="n388" class="n G" transform="translate(693.3 329.9)"><rect x="-14.2" y="-14.3" width="27" height="17"/><text x="-0.7" y="-1">388</text></g>
<g id="n77" class="n G" transform="translate(435.6 585.4)"><rect x="-11" y="-14.3" width="19.8" height="17"/><text x="-1.1" y="-1">77</text></g>

<g id="n413" class="n C" transform="translate(576.2 304.3)"><rect x="-14.2" y="-14.3" width="27" height="17"/><text x="-0.7" y="-1">413</text></g>
</g>
<g id="legend" class="lg">
<rect x="866" y="35" width="94" height="179" fill="#000"/>
<rect x="864.5" y="33.5" width="92" height="177" fill="#fff" stroke="#404040"/>
<rect class="cb" x="869.5" y="41" width="11" height="11"/><path class="ck" d="M871.5 46.5l2.5 2.5l4.5-5"/>
<rect x="888" y="41.5" width="10" height="10" fill="#FF00FF"/><text x="903" y="51">wifi</text>
<rect class="cb" x="869.5" y="63.5" width="11" height="11"/><path class="ck" d="M871.5 69l2.5 2.5l4.5-5"/>
<rect x="888" y="64" width="10" height="10" fill="#1E9A55"/><text x="903" y="73.5">RJ45</text>
<rect class="cb" x="869.5" y="85.5" width="11" height="11"/><path class="ck" d="M871.5 91l2.5 2.5l4.5-5"/>
<rect x="888" y="86" width="10" height="10" fill="#0000FF"/><text x="903" y="95.5">Terminals</text>
<rect class="cb" x="869.5" y="108" width="11" height="11"/><path class="ck" d="M871.5 113.5l2.5 2.5l4.5-5"/>
<rect x="888" y="108.5" width="10" height="10" fill="#00FFFF"/><text x="903" y="118">Edges</text>
<rect class="cb" x="869.5" y="130.5" width="11" height="11"/><path class="ck" d="M871.5 136l2.5 2.5l4.5-5"/>
<rect x="888" y="131" width="10" height="10" fill="#FF0000"/><text x="903" y="140.5">Fogs</text>
<rect class="cb" x="869.5" y="153" width="11" height="11"/><path class="ck" d="M871.5 158.5l2.5 2.5l4.5-5"/>
<rect x="888" y="153.5" width="10" height="10" fill="#FFFF00"/><text x="903" y="163">Gateways</text>
<rect class="cb" x="869.5" y="175.5" width="11" height="11"/><path class="ck" d="M871.5 181l2.5 2.5l4.5-5"/>
<rect x="888" y="176" width="10" height="10" fill="#00FF00"/><text x="903" y="185.5">Clouds</text>
<rect class="cb" x="869.5" y="197.5" width="11" height="11"/><path class="ck" d="M871.5 203l2.5 2.5l4.5-5"/>
</g>
<g id="params" class="pm">
<rect x="812.5" y="285.5" width="91" height="371" fill="#fff" stroke="#505050"/>
<text x="815" y="298">Ne=15</text>
<text x="815" y="313.4">MaxCapaR=50</text>
<text x="815" y="328.9">Cf=5</text>
<text x="815" y="344.3">cRJ45=3</text>
<text x="815" y="359.7">cG=35</text>
<text x="815" y="375.2">cF=25</text>
<text x="815" y="390.6">cE=10</text>
<text x="815" y="406">r=50</text>
<text x="815" y="421.4">HE=150</text>
<text x="815" y="436.9">HF=1500</text>
<text x="815" y="452.3">HG=7000</text>
<text x="815" y="467.7">L=5000</text>
<text x="815" y="483.2">LE=10000</text>
<text x="815" y="498.6">LF=15000</text>
<text x="815" y="514">muS=1000</text>
<text x="815" y="529.5">muE=4000</text>
<text x="815" y="544.9">muF=7000</text>
<text x="815" y="560.3">gamS=80</text>
<text x="815" y="575.7">gamE=20</text>
<text x="815" y="591.2">gamF=15</text>
<text x="815" y="606.6">Rn=15</text>
<text x="815" y="622">Ne=15</text>
<text x="815" y="637.5">Nf=10</text>
<text x="815" y="652.9">Ng=7</text>
</g>
</svg>
